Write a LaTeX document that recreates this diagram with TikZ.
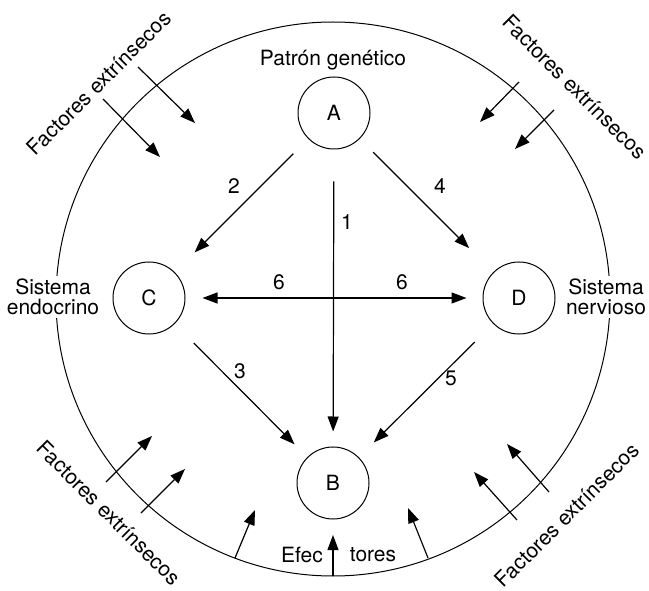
\documentclass[tikz,border=0pt]{standalone}
\usepackage{fontspec}
\setmainfont{TeX Gyre Heros}
\usetikzlibrary{arrows.meta}
\begin{document}
\begin{tikzpicture}[x=1pt,y=-1pt,
  lbl/.style={font=\fontsize{21}{20}\selectfont, inner sep=0pt},
  sml/.style={circle, draw, line width=1pt, minimum size=72pt, inner sep=0pt, font=\fontsize{21}{20}\selectfont},
  arr/.style={line width=1.2pt, -{Triangle[length=15pt,width=11pt]}},
  darr/.style={line width=1.2pt, {Triangle[length=15pt,width=11pt]}-{Triangle[length=15pt,width=11pt]}},
  side/.style={font=\fontsize{21}{20}\selectfont, align=center, fill=white, inner sep=3pt}]
\useasboundingbox (0,0) rectangle (649,591);
% outer circle
\node[circle, draw, line width=1pt, minimum size=554pt, inner sep=0pt] (O) at (333,299) {};
% inner nodes
\node[sml] (A) at (334,113) {A};
\node[sml] (B) at (333,483) {B};
\node[sml] (C) at (149,298) {C};
\node[sml] (D) at (519,298) {D};
% labels
\node[lbl] (pg) at (333,60) {Patrón genético};
\node[side] (se) at (53,297) {Sistema\\endocrino};
\node[side] (sn) at (606,297) {Sistema\\nervioso};
\node[lbl] (ef1) at (302,555) {Efec};
\node[lbl] (ef2) at (373,555) {tores};
\node[lbl, rotate=45] (ftl) at (99,83) {Factores extrínsecos};
\node[lbl, rotate=-45] (ftr) at (575,87) {Factores extrínsecos};
\node[lbl, rotate=-45] (fbl) at (109,513) {Factores extrínsecos};
\node[lbl, rotate=45] (fbr) at (567,515) {Factores extrínsecos};
% numbers
\node[lbl] (n1) at (347,222) {1};
\node[lbl] (n2) at (234,186) {2};
\node[lbl] (n3) at (240,371) {3};
\node[lbl] (n4) at (440,186) {4};
\node[lbl] (n5) at (451,378) {5};
\node[lbl] (n6a) at (279,282) {6};
\node[lbl] (n6b) at (402,282) {6};
% inner arrows
\draw[arr, shorten <=32pt, shorten >=15pt] (A) -- (B);
\draw[arr, shorten <=21pt, shorten >=28pt] (A) -- (C);
\draw[arr, shorten <=19pt, shorten >=34pt] (A) -- (D);
\draw[arr, shorten <=27pt, shorten >=18pt] (C) -- (B);
\draw[arr, shorten <=26pt, shorten >=21pt] (D) -- (B);
\draw[darr, shorten <=17pt, shorten >=16pt] (C) -- (D);
% outer factor arrows
\coordinate (tl1s) at (138,67);  \coordinate (tl1e) at (195,123);
\coordinate (tl2s) at (103,99);  \coordinate (tl2e) at (160,157);
\coordinate (tr1s) at (519,82);  \coordinate (tr1e) at (480,122);
\coordinate (tr2s) at (554,110); \coordinate (tr2e) at (515,149);
\coordinate (bl1s) at (106,482); \coordinate (bl1e) at (152,436);
\coordinate (bl2s) at (141,513); \coordinate (bl2e) at (185,469);
\coordinate (bl3s) at (235,558); \coordinate (bl3e) at (255,510);
\coordinate (bcs) at (333,576);  \coordinate (bce) at (333,535);
\coordinate (br1s) at (428,558); \coordinate (br1e) at (408,508);
\coordinate (br2s) at (517,520); \coordinate (br2e) at (474,472);
\coordinate (br3s) at (549,492); \coordinate (br3e) at (507,444);
\foreach \a in {tl1,tl2,tr1,tr2,bl1,bl2,bl3,bc,br1,br2,br3}
  \draw[arr] (\a s) -- (\a e);
\end{tikzpicture}
\end{document}
